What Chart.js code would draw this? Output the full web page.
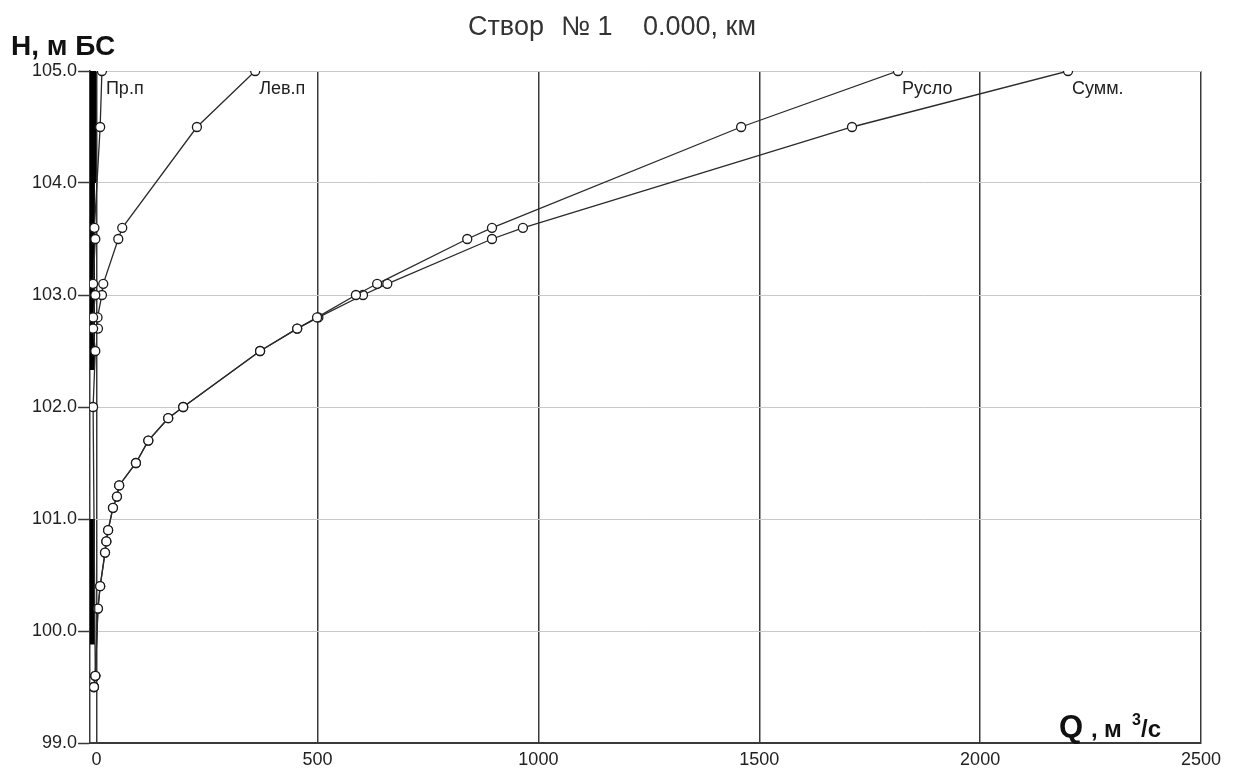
<!DOCTYPE html>
<html>
<head>
<meta charset="utf-8">
<script src="https://cdn.jsdelivr.net/npm/chart.js@4/dist/chart.umd.min.js"></script>
<style>
  html, body { margin: 0; padding: 0; background: #fff; }
  #wrap { width: 1240px; height: 773px; }
</style>
</head>
<body>
<div id="wrap"><canvas id="c" width="1240" height="773"></canvas></div>
<script>
// Rating curves for cross-section No 1: water level H (m, Baltic system) vs discharge Q (m3/s)
const levelTicks = [99, 100, 101, 102, 103, 104, 105];
const flowTicks = [0, 500, 1000, 1500, 2000, 2500];

// Right floodplain (Пр.п)
const prH = [99.5, 99.6, 102.0, 102.5, 102.7, 102.8, 103.0, 103.1, 103.5, 103.6, 104.5, 105.0];
const prQ = [-6, -3, -8, -3, -8, -8, -3, -8, -3, -5, 8, 12];

// Left floodplain (Лев.п)
const levH = [102.7, 102.8, 103.0, 103.1, 103.5, 103.6, 104.5, 105.0];
const levQ = [3, 2, 12, 15, 49, 58, 227, 359];

// Main channel (Русло)
const rusH = [99.5, 99.6, 100.2, 100.4, 100.7, 100.8, 100.9, 101.1, 101.2, 101.3, 101.5, 101.7, 101.9, 102.0, 102.5, 102.7, 102.8, 103.0, 103.1, 103.5, 103.6, 104.5, 105.0];
const rusQ = [-6, -3, 3, 8, 19, 22, 26, 37, 46, 51, 89, 117, 162, 196, 370, 454, 499, 587, 635, 839, 895, 1459, 1814];

// Total discharge (Сумм.)
const sumH = [99.5, 99.6, 100.2, 100.4, 100.7, 100.8, 100.9, 101.1, 101.2, 101.3, 101.5, 101.7, 101.9, 102.0, 102.5, 102.7, 102.8, 103.0, 103.1, 103.5, 103.6, 104.5, 105.0];
const sumQ = [-6, -3, 3, 8, 19, 22, 26, 37, 46, 51, 89, 117, 162, 196, 370, 454, 502, 603, 658, 895, 965, 1710, 2199];

// Bank edge band (thick segments next to the level axis), null splits segments
const edgeH = [105.0, 102.33, null, 101.0, 99.88, null, 105.0, 104.0];
const edgeQ = [-9.5, -9.5, null, -9.5, -9.5, null, -6.5, -6.5];

const seriesNames = ['Пр.п', 'Лев.п', 'Русло', 'Сумм.'];

const pts = (qs, hs) => qs.map((q, i) => (q === null ? { x: null, y: null } : { x: q, y: hs[i] }));

const lineStyle = {
  showLine: true,
  borderColor: '#2a2a2a',
  borderWidth: 1.3,
  pointRadius: 4.5,
  pointHoverRadius: 4.5,
  pointBackgroundColor: '#fff',
  pointBorderColor: '#1a1a1a',
  pointBorderWidth: 1.3,
  tension: 0
};

const TICKFONT = '"Liberation Sans", Arial, sans-serif';
const SANS = '"Liberation Sans", Arial, sans-serif';

const labelsPlugin = {
  id: 'curveLabels',
  afterDatasetsDraw(chart) {
    const ctx = chart.ctx;
    const xs = chart.scales.x, ys = chart.scales.y;
    ctx.save();
    ctx.fillStyle = '#222';
    ctx.textBaseline = 'alphabetic';
    // Curve names at their top points
    ctx.font = '18px ' + SANS;
    ctx.textAlign = 'left';
    [prQ, levQ, rusQ, sumQ].forEach((qs, i) => {
      const hs = [prH, levH, rusH, sumH][i];
      const n = qs.length - 1;
      const px = xs.getPixelForValue(qs[n]);
      const py = ys.getPixelForValue(hs[n]);
      ctx.fillText(seriesNames[i], px + 4, py + 23);
    });
    // Title
    ctx.fillStyle = '#333';
    ctx.font = '27px ' + SANS;
    ctx.fillText('Створ', 468, 35);
    ctx.fillText('№ 1', 561, 35);
    ctx.fillText('0.000, км', 643, 35);
    // Level axis title
    ctx.fillStyle = '#111';
    ctx.font = 'bold 28px ' + SANS;
    ctx.fillText('H, м БС', 11, 55);
    // Discharge axis title
    ctx.font = 'bold 31px ' + SANS;
    ctx.fillText('Q', 1059, 737);
    ctx.font = 'bold 24px ' + SANS;
    ctx.fillText(',', 1091, 737);
    ctx.fillText('м', 1104, 737);
    ctx.font = 'bold 16px ' + SANS;
    ctx.fillText('3', 1132, 725);
    ctx.font = 'bold 24px ' + SANS;
    ctx.fillText('/с', 1141, 737);
    ctx.restore();
  }
};

new Chart(document.getElementById('c'), {
  type: 'scatter',
  data: {
    datasets: [
      Object.assign({ label: seriesNames[0], data: pts(prQ, prH) }, lineStyle),
      Object.assign({ label: seriesNames[1], data: pts(levQ, levH) }, lineStyle),
      Object.assign({ label: seriesNames[2], data: pts(rusQ, rusH) }, lineStyle),
      Object.assign({ label: seriesNames[3], data: pts(sumQ, sumH) }, lineStyle),
      {
        label: 'edge',
        data: pts(edgeQ, edgeH),
        showLine: true,
        spanGaps: false,
        borderColor: '#000',
        borderWidth: 5,
        borderCapStyle: 'butt',
        pointRadius: 0,
        order: 10
      }
    ]
  },
  options: {
    responsive: false,
    animation: false,
    layout: { padding: { top: 71, right: 39, bottom: 0, left: 0 } },
    plugins: { legend: { display: false }, tooltip: { enabled: false } },
    scales: {
      x: {
        type: 'linear',
        min: -15,
        max: 2500,
        afterBuildTicks: (s) => { s.ticks = flowTicks.map(v => ({ value: v })); },
        afterFit: (s) => { s.height = 30; },
        grid: { color: '#3a3a3a', lineWidth: 1.5, drawTicks: false },
        border: { color: '#3a3a3a', width: 2 },
        ticks: {
          padding: 6,
          color: '#222',
          font: { family: TICKFONT, size: 18 },
          maxRotation: 0,
          callback: (v) => String(v)
        }
      },
      y: {
        type: 'linear',
        min: 99,
        max: 105,
        afterBuildTicks: (s) => { s.ticks = levelTicks.map(v => ({ value: v })); },
        afterFit: (s) => { s.width = 90; },
        grid: { color: '#c8c8c8', lineWidth: 1, tickLength: 12, tickColor: '#3a3a3a', tickWidth: 1.5 },
        border: { color: '#3a3a3a', width: 1.5 },
        ticks: {
          padding: 1,
          color: '#222',
          font: { family: TICKFONT, size: 18 },
          callback: (v) => Number(v).toFixed(1)
        }
      }
    }
  },
  plugins: [labelsPlugin]
});
</script>
</body>
</html>
